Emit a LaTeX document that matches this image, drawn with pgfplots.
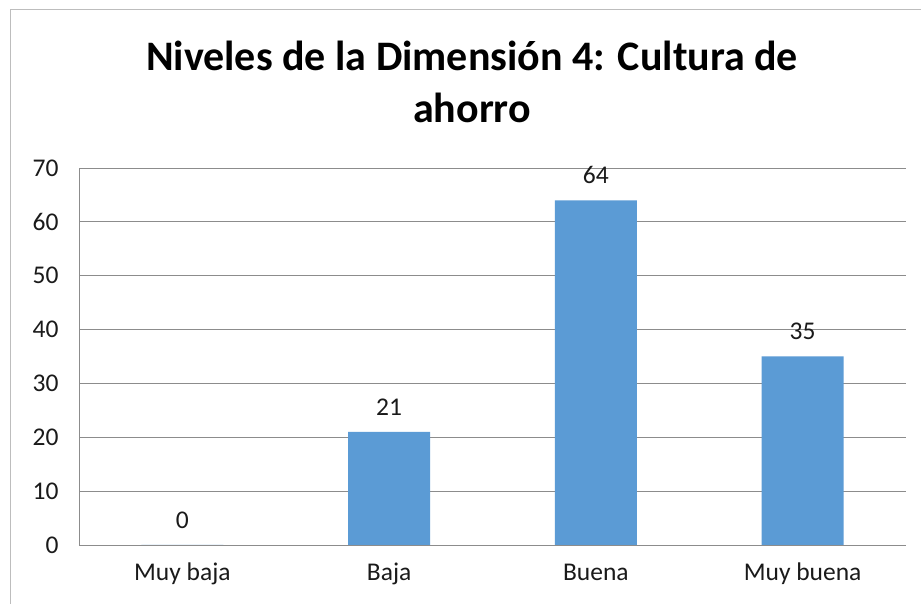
\documentclass[border=0pt]{standalone}
\usepackage{pgfplots}
\pgfplotsset{compat=1.18}
\usepackage{fontspec}
\setmainfont{Carlito}
\definecolor{barblue}{HTML}{5B9BD5}
\definecolor{gridgray}{HTML}{8C8C8C}
\definecolor{framegray}{HTML}{BDBDBD}
\definecolor{txt}{HTML}{1A1A1A}

\begin{document}
\begin{tikzpicture}
\useasboundingbox (-79pt,-59pt) rectangle (842pt,545pt);
\fill[white] (-79pt,-59pt) rectangle (842pt,545pt);
% outer chart frame (cut at right and bottom)
\draw[framegray, line width=1pt] (-68pt,-59pt) -- (-68pt,535pt) -- (842pt,535pt);
\begin{axis}[
  scale only axis, width=827pt, height=377pt,
  at={(0pt,0pt)}, anchor=south west,
  xmin=-0.5, xmax=3.5, ymin=0, ymax=70,
  ytick distance=10,
  xtick={0,1,2,3},
  xticklabels={Muy baja, Baja, Buena, Muy buena},
  axis x line*=bottom, axis y line*=left,
  axis line style={gridgray, line width=0.8pt, -},
  ymajorgrids, grid style={gridgray, line width=0.8pt},
  major tick length=0pt,
  tick label style={font=\fontsize{25.5}{30}\selectfont, text=txt},
  yticklabel style={xshift=-17pt},
  xticklabel style={text height=18pt, text depth=6pt, yshift=-14pt},
  /pgf/number format/assume math mode=true,
  ybar, bar width=82pt,
  nodes near coords,
  every node near coord/.append style={font=\fontsize{25.5}{30}\selectfont, text=txt, yshift=13pt},
]
\addplot[fill=barblue, draw=none] coordinates {(0,0) (1,21) (2,64) (3,35)};
\end{axis}
\node[anchor=base, font=\fontsize{42}{50}\selectfont\bfseries] at (393pt,474pt) {Niveles de la Dimensión 4: Cultura de};
\node[anchor=base, font=\fontsize{42}{50}\selectfont\bfseries] at (393pt,422pt) {ahorro};
\end{tikzpicture}
\end{document}
